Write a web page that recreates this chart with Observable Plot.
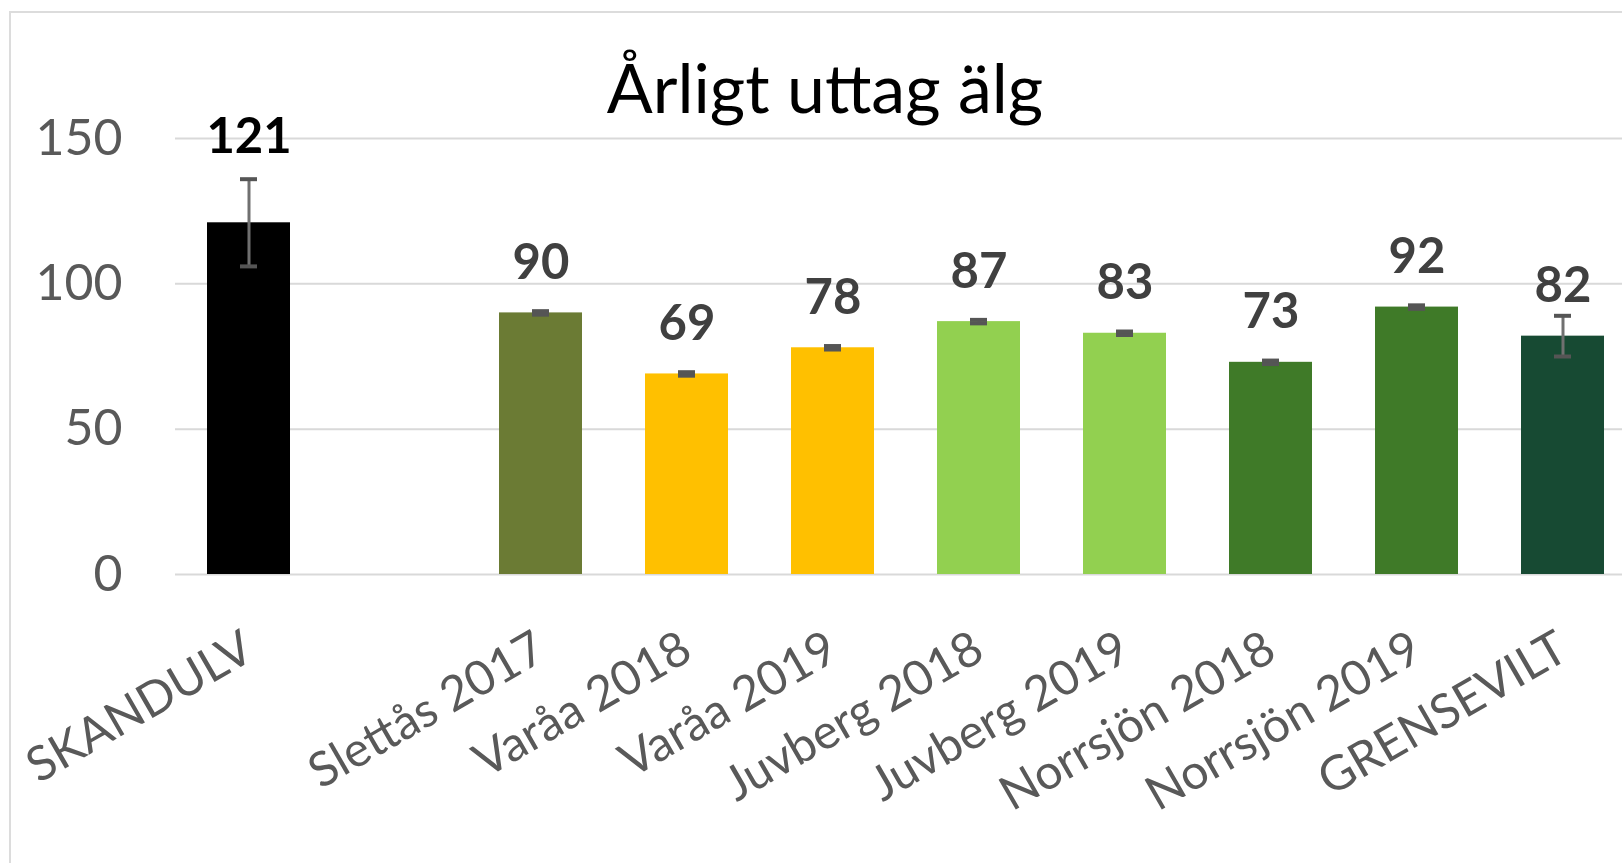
<!DOCTYPE html>
<html><head><meta charset="utf-8">
<script src="https://cdn.jsdelivr.net/npm/d3@7"></script>
<script src="https://cdn.jsdelivr.net/npm/@observablehq/plot@0.6"></script>
<style>
html,body{margin:0;padding:0;background:#fff;overflow:hidden;width:1622px;height:863px}
#wrap{position:relative;width:1622px;height:863px;overflow:hidden}
#frame{position:absolute;left:9px;top:11px;width:1700px;height:1000px;border:2px solid #dcdcdc;box-sizing:border-box}
#title{position:absolute;left:0;width:1650px;top:53px;text-align:center;font:68px/68px Lato;color:#000}
#chart{position:absolute;left:0;top:0}
</style></head><body>
<div id="wrap"><div id="frame"></div><div id="chart"></div><div id="title">Årligt uttag älg</div></div>
<script>
const categories = ["SKANDULV","Slettås 2017","Varåa 2018","Varåa 2019","Juvberg 2018","Juvberg 2019","Norrsjön 2018","Norrsjön 2019","GRENSEVILT"];
const values = [121,90,69,78,87,83,73,92,82];
const errors = [15,0.6,0.6,0.6,0.6,0.6,0.6,0.6,7];
const colors = ["#000000","#6B7B34","#FFC000","#FFC000","#92D050","#92D050","#3F7A28","#3F7A28","#174A33"];
const yTicks = [0,50,100,150];

const data = categories.map((c,i)=>({cat:c, v:values[i], lo:values[i]-errors[i], hi:values[i]+errors[i], color:colors[i]}));
const domain = [categories[0], "", ...categories.slice(1)];
const first = data.filter((d,i)=>i===0);
const rest = data.filter((d,i)=>i>0);

const plot = Plot.plot({
  width:1622, height:863, marginLeft:175, marginRight:0, marginTop:138, marginBottom:289,
  style:{fontFamily:"Lato", background:"transparent"},
  x:{domain, range:[175,1636], paddingInner:0.43, paddingOuter:0.215, label:null},
  y:{domain:[0,150], label:null},
  color:{type:"identity"},
  marks:[
    Plot.gridY(yTicks,{stroke:"#d9d9d9", strokeOpacity:1, strokeWidth:2}),
    Plot.barY(data,{x:"cat", y:"v", fill:"color"}),
    Plot.ruleX(data,{x:"cat", y1:"lo", y2:"hi", stroke:"#707070", strokeWidth:3}),
    Plot.tickY(data,{x:"cat", y:"lo", stroke:"#555555", strokeWidth:4, insetLeft:33, insetRight:33}),
    Plot.tickY(data,{x:"cat", y:"hi", stroke:"#555555", strokeWidth:4, insetLeft:33, insetRight:33}),
    Plot.text(rest,{x:"cat", y:"v", text:d=>String(d.v), dy:-34, lineAnchor:"bottom", fontSize:49, fontWeight:"bold", fill:"#404040"}),
    Plot.text(first,{x:"cat", y:"hi", text:d=>String(d.v), dy:-26, lineAnchor:"bottom", fontSize:49, fontWeight:"bold", fill:"#000000"}),
    Plot.axisY({ticks:yTicks, tickSize:0, tickPadding:53, fontSize:50, color:"#595959"}),
    Plot.axisX({tickRotate:-30, tickSize:0, tickPadding:70, dx:0, fontSize:48, color:"#595959", tickFormat:d=>d})
  ]
});
document.getElementById("chart").appendChild(plot);
</script>
</body></html>
